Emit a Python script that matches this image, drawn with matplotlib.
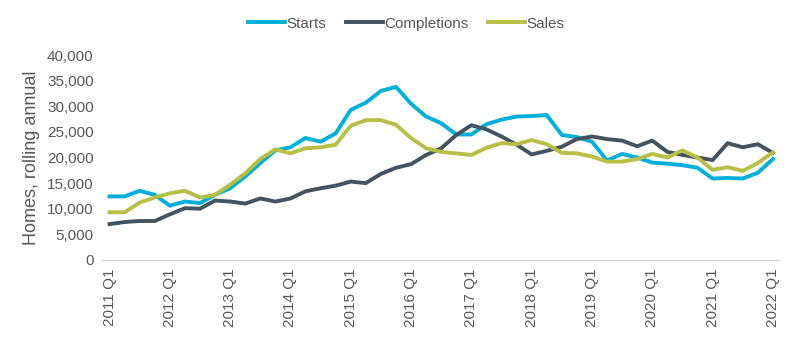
import matplotlib.pyplot as plt

plt.rcParams['font.family'] = ['Liberation Sans', 'DejaVu Sans']

# quarterly, 2011 Q1 .. 2022 Q1 (thousands of homes, rolling annual)
quarters = [f"{y} Q{q}" for y in range(2011, 2023) for q in range(1, 5)][:45]

starts = [12.4, 12.4, 13.5, 12.7, 10.6, 11.4, 11.1, 12.7,
          14.0, 16.3, 18.9, 21.4, 22.0, 23.8, 23.1, 24.7,
          29.3, 30.7, 33.0, 33.8, 30.5, 28.0, 26.7, 24.5,
          24.5, 26.5, 27.4, 28.0, 28.1, 28.3, 24.4, 24.0,
          23.1, 19.4, 20.7, 20.0, 19.0, 18.8, 18.5, 18.0,
          15.9, 16.0, 15.9, 17.0, 19.7]

completions = [7.0, 7.4, 7.6, 7.6, 8.9, 10.1, 10.0, 11.6,
               11.4, 11.0, 12.0, 11.4, 12.0, 13.4, 14.0, 14.5,
               15.3, 15.0, 16.8, 18.0, 18.7, 20.5, 21.8, 24.4,
               26.3, 25.5, 24.1, 22.5, 20.6, 21.3, 22.1, 23.6,
               24.1, 23.6, 23.3, 22.2, 23.3, 21.1, 20.5, 20.0,
               19.5, 22.8, 22.0, 22.6, 20.9]

sales = [9.3, 9.3, 11.2, 12.2, 13.0, 13.5, 12.2, 12.7,
         14.7, 16.9, 19.7, 21.6, 20.8, 21.8, 22.0, 22.5,
         26.2, 27.3, 27.3, 26.4, 23.8, 21.8, 21.1, 20.8,
         20.5, 21.9, 22.8, 22.6, 23.4, 22.6, 20.9, 20.8,
         20.2, 19.2, 19.2, 19.7, 20.7, 20.0, 21.4, 20.0,
         17.6, 18.1, 17.4, 18.9, 21.0]

c_starts = '#00B0DA'
c_comp = '#45535E'
c_sales = '#B7BF45'
txt = '#595959'

fig = plt.figure(figsize=(8, 3.38), dpi=100)
ax = fig.add_axes([0.1275, 0.231, 0.848, 0.606])

x = list(range(len(quarters)))
ax.plot(x, [v * 1000 for v in starts], color=c_starts, lw=2.8, label='Starts')
ax.plot(x, [v * 1000 for v in completions], color=c_comp, lw=2.8, label='Completions')
ax.plot(x, [v * 1000 for v in sales], color=c_sales, lw=2.8, label='Sales')

ax.set_xlim(-0.5, len(quarters) - 0.5)
ax.set_ylim(0, 40000)
ax.set_yticks(range(0, 40001, 5000))
ax.set_yticklabels([f"{v:,}" for v in range(0, 40001, 5000)])
ax.set_xticks(x[::4])
ax.set_xticklabels(quarters[::4], rotation=90)

for s in ['top', 'right', 'left']:
    ax.spines[s].set_visible(False)
ax.spines['bottom'].set_color('#d9d9d9')
ax.spines['bottom'].set_linewidth(1.0)
ax.tick_params(axis='both', length=0, labelsize=11, colors=txt, pad=6)
ax.set_ylabel('Homes, rolling annual', fontsize=13, color=txt, labelpad=5)

fig.legend(loc='center', bbox_to_anchor=(0.508, 0.93), ncol=3, frameon=False,
           fontsize=11, labelcolor=txt, handlelength=2.4, handletextpad=0.1,
           columnspacing=1.3)

fig.savefig('out.png', dpi=100)
